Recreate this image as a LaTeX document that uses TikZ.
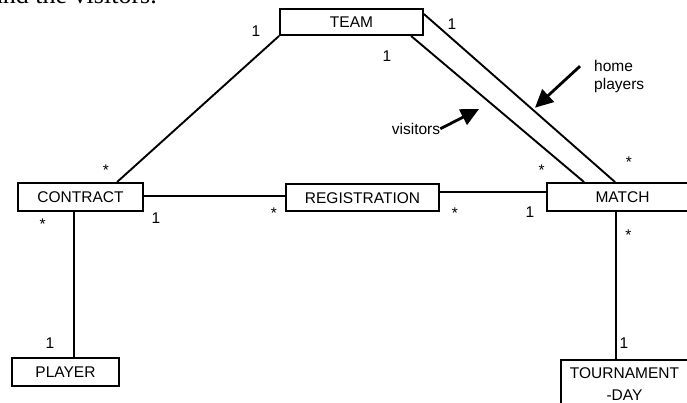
\documentclass[tikz,border=0pt]{standalone}
\usepackage{fontspec}
\setmainfont{Liberation Sans}
\newfontfamily\captionfont{Liberation Serif}
\usetikzlibrary{calc,arrows.meta}

\begin{document}
\begin{tikzpicture}[x=1pt,y=-1pt,
  font=\fontsize{15.5}{18.4}\selectfont,
  entity/.style={draw,line width=1.9pt,inner sep=0pt,text height=11.1pt,text depth=0pt},
  assoc/.style={line width=1.9pt},
  mult/.style={anchor=base,inner sep=0pt},
  pointer/.style={line width=2.8pt,-{Triangle[length=18pt,width=17pt]}},
  note/.style={anchor=base west,inner sep=0pt}]
  \useasboundingbox (0,0) rectangle (687,402);
  \clip (0,0) rectangle (687,402);

  % caption line running above the diagram
  \node[anchor=base east,inner sep=0pt,font=\captionfont\fontsize{26}{30}\selectfont] (caption) at (157,3) {and the visitors.};

  % classes
  \node[entity,minimum width=143pt,minimum height=26pt] (team) at (351.5,22) {TEAM};
  \node[entity,minimum width=125pt,minimum height=28pt] (contract) at (80.5,197) {CONTRACT};
  \node[entity,minimum width=153pt,minimum height=27pt] (registration) at (362.5,197.5) {REGISTRATION};
  \node[entity,minimum width=151pt,minimum height=28pt] (match) at (622.5,197) {MATCH};
  \node[entity,minimum width=107pt,minimum height=28pt] (player) at (65.5,372) {PLAYER};
  \node[draw,line width=1.9pt,anchor=north,text width=127pt,align=center,inner xsep=0pt,inner ysep=7.4pt,
        font=\fontsize{15.5}{22}\selectfont] (tday) at (624.5,359) {TOURNAMENT\\-DAY};

  % associations
  \draw[assoc] (team.south west) -- ($(contract.north west)+(100,0)$);
  \draw[assoc] ($(team.south west)+(132,0)$) -- ($(match.north west)+(38,0)$);
  \draw[assoc] ($(team.north east)+(0,6)$) -- ($(match.north west)+(69,0)$);
  \draw[assoc] ($(contract.east)+(0,-1.3)$) -- ($(registration.west)+(0,-1.8)$);
  \draw[assoc] ($(registration.east)+(0,-5.2)$) -- ($(match.west)+(0,-4.7)$);
  \coordinate (cfoot) at ($(contract.south west)+(56.5,0)$);
  \draw[assoc] (cfoot) -- (cfoot |- player.north);
  \coordinate (mfoot) at ($(match.south west)+(69.5,0)$);
  \draw[assoc] (mfoot) -- (mfoot |- tday.north);

  % multiplicities
  \node[mult] (m1) at (256,36.5) {1};
  \node[mult] (m2) at (452,29.5) {1};
  \node[mult] (m3) at (387,61.5) {1};
  \node[mult] (m4) at (541.7,175.6) {*};
  \node[mult] (m5) at (629,167.9) {*};
  \node[mult] (m6) at (106,175.6) {*};
  \node[mult] (m7) at (42.7,229.9) {*};
  \node[mult] (m8) at (156,223.5) {1};
  \node[mult] (m9) at (274,218.9) {*};
  \node[mult] (m10) at (455,218.9) {*};
  \node[mult] (m11) at (530,217.2) {1};
  \node[mult] (m12) at (628.3,240.6) {*};
  \node[mult] (m13) at (50,348.8) {1};
  \node[mult] (m14) at (624,348.8) {1};

  % role notes
  \node[note] (home) at (594,71.7) {home};
  \node[note] (players) at (594,89) {players};
  \node[note] (visitors) at (391.7,134.3) {visitors};
  \coordinate (htip) at (535,107.7);
  \coordinate (vtip) at (479,109);
  \draw[pointer] ($(home.west)+(-14,0)$) -- (htip);
  \draw[pointer] (visitors.east) -- (vtip);
\end{tikzpicture}
\end{document}
